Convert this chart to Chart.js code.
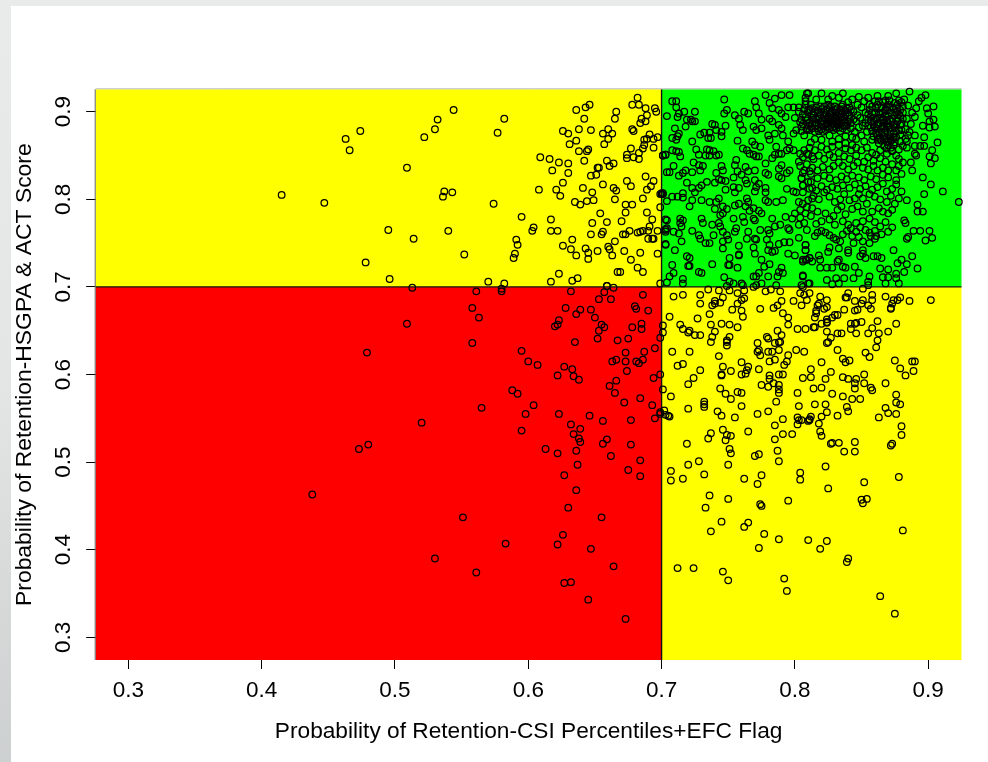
<!DOCTYPE html>
<html><head><meta charset="utf-8">
<style>
html,body{margin:0;padding:0;width:988px;height:762px;overflow:hidden;background:linear-gradient(180deg,#e9eaea 0%,#e4e5e5 50%,#cdd0d0 100%)}
#wrap{position:absolute;left:11px;top:6px;width:977px;height:756px;background:#fff}
canvas{display:block}
</style>
<script src="https://cdn.jsdelivr.net/npm/chart.js@4"></script>
</head><body><div id="wrap"><canvas id="c" width="977" height="756"></canvas></div>
<script>
const xTitle="Probability of Retention-CSI Percentiles+EFC Flag";
const yTitle="Probability of Retention-HSGPA & ACT Score";
const tickValues=[0.3,0.4,0.5,0.6,0.7,0.8,0.9];
const cut=0.7;
const xLimits=[0.2755,0.925];
const yLimits=[0.2741,0.9256];
const redPts=[[.513,.699],[.561,.695],[.580,.698],[.580,.695],[.632,.695],[.659,.701],[.664,.699],[.657,.694],[.653,.686],[.662,.686],[.686,.691],[.558,.676],[.563,.665],[.628,.676],[.639,.674],[.636,.669],[.647,.674],[.650,.665],[.623,.662],[.622,.657],[.620,.655],[.680,.678],[.681,.675],[.690,.673],[.685,.658],[.685,.652],[.678,.654],[.655,.657],[.657,.654],[.653,.650],[.652,.641],[.667,.639],[.675,.641],[.509,.658],[.635,.637],[.558,.636],[.479,.625],[.595,.627],[.673,.625],[.687,.626],[.695,.630],[.699,.642],[.701,.648],[.701,.656],[.600,.615],[.607,.611],[.627,.609],[.633,.606],[.663,.615],[.666,.617],[.673,.615],[.681,.615],[.683,.613],[.686,.617],[.674,.604],[.622,.599],[.634,.598],[.638,.594],[.666,.593],[.694,.596],[.699,.600],[.661,.587],[.665,.579],[.588,.582],[.592,.578],[.701,.583],[.684,.573],[.672,.568],[.693,.565],[.604,.565],[.565,.562],[.598,.555],[.623,.555],[.646,.553],[.656,.547],[.677,.548],[.695,.550],[.699,.557],[.699,.555],[.702,.559],[.703,.554],[.705,.553],[.520,.545],[.632,.543],[.639,.538],[.595,.536],[.634,.532],[.638,.527],[.639,.523],[.659,.526],[.656,.521],[.677,.520],[.480,.520],[.473,.515],[.613,.515],[.622,.510],[.636,.513],[.662,.507],[.684,.502],[.637,.497],[.627,.485],[.675,.491],[.684,.484],[.636,.468],[.438,.463],[.630,.448],[.551,.437],[.655,.437],[.626,.417],[.583,.407],[.622,.406],[.647,.401],[.530,.390],[.664,.381],[.561,.374],[.627,.362],[.632,.363],[.645,.343],[.673,.321]];
const yellowUpperPts=[[.474,.878],[.463,.869],[.466,.856],[.415,.805],[.447,.796],[.495,.765],[.478,.728],[.496,.709],[.544,.902],[.532,.891],[.530,.880],[.522,.871],[.582,.892],[.577,.876],[.509,.836],[.537,.809],[.543,.808],[.536,.803],[.574,.795],[.608,.811],[.595,.780],[.514,.755],[.540,.764],[.552,.737],[.591,.754],[.592,.748],[.590,.738],[.589,.733],[.570,.706],[.582,.704],[.604,.768],[.603,.764],[.617,.777],[.617,.764],[.622,.764],[.609,.848],[.616,.846],[.623,.842],[.630,.841],[.618,.833],[.630,.830],[.626,.819],[.621,.811],[.624,.804],[.633,.754],[.626,.747],[.632,.743],[.636,.736],[.623,.715],[.617,.706],[.633,.707],[.637,.710],[.636,.902],[.643,.905],[.646,.908],[.642,.892],[.626,.878],[.630,.875],[.638,.880],[.647,.879],[.636,.867],[.631,.863],[.638,.855],[.644,.855],[.645,.857],[.642,.844],[.652,.836],[.653,.836],[.647,.827],[.651,.828],[.659,.844],[.661,.838],[.664,.841],[.656,.817],[.641,.813],[.648,.808],[.635,.797],[.639,.794],[.644,.798],[.649,.799],[.664,.813],[.666,.810],[.665,.800],[.654,.784],[.659,.774],[.648,.773],[.647,.760],[.655,.760],[.656,.763],[.665,.752],[.660,.746],[.661,.743],[.663,.736],[.643,.744],[.645,.739],[.645,.732],[.652,.741],[.672,.741],[.677,.731],[.684,.739],[.697,.738],[.682,.722],[.686,.717],[.667,.717],[.669,.717],[.659,.701],[.699,.704],[.666,.900],[.665,.892],[.678,.908],[.682,.916],[.683,.908],[.688,.904],[.689,.896],[.685,.892],[.684,.887],[.688,.889],[.695,.904],[.696,.900],[.678,.880],[.679,.878],[.660,.880],[.656,.875],[.663,.875],[.660,.869],[.657,.863],[.677,.858],[.674,.851],[.674,.847],[.679,.848],[.683,.853],[.683,.846],[.686,.858],[.687,.862],[.687,.868],[.689,.869],[.691,.874],[.694,.869],[.697,.871],[.694,.859],[.701,.850],[.703,.851],[.688,.826],[.674,.821],[.677,.815],[.694,.821],[.692,.815],[.689,.811],[.699,.806],[.700,.806],[.701,.807],[.686,.801],[.673,.794],[.678,.794],[.673,.785],[.689,.785],[.670,.775],[.693,.777],[.699,.791],[.691,.769],[.676,.764],[.673,.760],[.671,.760],[.682,.762],[.684,.763],[.686,.764],[.690,.764],[.697,.764],[.690,.755],[.693,.755],[.694,.755],[.703,.748],[.703,.777],[.703,.766],[.703,.763]];
const yellowLowerPts=[[.709,.689],[.716,.691],[.729,.691],[.729,.681],[.735,.697],[.743,.696],[.751,.696],[.746,.688],[.744,.682],[.740,.684],[.740,.681],[.738,.679],[.757,.693],[.762,.696],[.762,.687],[.760,.685],[.757,.681],[.753,.674],[.760,.673],[.761,.666],[.774,.675],[.778,.695],[.782,.697],[.789,.695],[.790,.684],[.787,.679],[.784,.676],[.791,.670],[.795,.665],[.795,.657],[.799,.684],[.804,.693],[.807,.691],[.811,.693],[.809,.685],[.805,.679],[.819,.689],[.824,.685],[.818,.681],[.817,.679],[.824,.677],[.822,.675],[.816,.673],[.816,.670],[.815,.665],[.837,.674],[.832,.668],[.830,.668],[.828,.665],[.824,.663],[.824,.660],[.824,.659],[.820,.658],[.815,.654],[.814,.654],[.808,.652],[.802,.652],[.824,.649],[.840,.693],[.838,.688],[.839,.688],[.845,.684],[.851,.685],[.850,.681],[.858,.691],[.858,.685],[.855,.679],[.857,.675],[.847,.674],[.845,.673],[.868,.689],[.879,.688],[.877,.685],[.874,.685],[.873,.681],[.872,.676],[.872,.675],[.886,.684],[.902,.685],[.876,.658],[.862,.661],[.850,.660],[.846,.659],[.845,.658],[.842,.658],[.858,.653],[.842,.652],[.846,.647],[.855,.647],[.832,.647],[.835,.647],[.863,.647],[.870,.649],[.862,.639],[.861,.631],[.827,.642],[.825,.637],[.824,.636],[.832,.628],[.853,.625],[.856,.620],[.836,.618],[.838,.614],[.841,.616],[.875,.616],[.879,.607],[.888,.615],[.890,.615],[.889,.604],[.883,.599],[.868,.590],[.876,.577],[.876,.568],[.879,.566],[.868,.562],[.870,.556],[.876,.555],[.863,.551],[.880,.541],[.880,.531],[.873,.521],[.872,.519],[.706,.666],[.714,.657],[.716,.652],[.720,.648],[.721,.650],[.725,.645],[.729,.645],[.727,.664],[.736,.669],[.737,.657],[.740,.649],[.738,.643],[.737,.637],[.745,.658],[.751,.657],[.757,.654],[.751,.643],[.749,.639],[.749,.637],[.749,.633],[.708,.626],[.721,.626],[.743,.621],[.712,.610],[.716,.612],[.729,.605],[.724,.596],[.720,.589],[.746,.609],[.752,.604],[.745,.600],[.745,.599],[.760,.614],[.765,.609],[.764,.605],[.763,.601],[.760,.600],[.773,.606],[.744,.584],[.748,.578],[.752,.572],[.757,.580],[.760,.579],[.760,.564],[.732,.569],[.732,.566],[.732,.563],[.720,.561],[.707,.575],[.706,.552],[.742,.558],[.745,.553],[.755,.551],[.772,.555],[.780,.558],[.786,.569],[.788,.579],[.788,.583],[.788,.588],[.780,.586],[.775,.588],[.784,.590],[.781,.595],[.781,.599],[.788,.600],[.791,.600],[.792,.611],[.794,.615],[.795,.622],[.785,.617],[.781,.615],[.774,.622],[.772,.626],[.773,.628],[.780,.626],[.783,.626],[.788,.628],[.789,.637],[.788,.637],[.790,.645],[.787,.650],[.785,.636],[.779,.643],[.780,.641],[.772,.636],[.801,.628],[.807,.626],[.820,.614],[.812,.606],[.812,.597],[.806,.596],[.827,.603],[.823,.595],[.836,.597],[.840,.595],[.846,.595],[.845,.590],[.845,.584],[.852,.600],[.852,.590],[.857,.585],[.858,.582],[.820,.585],[.814,.584],[.802,.579],[.828,.578],[.836,.575],[.843,.572],[.849,.572],[.815,.566],[.823,.566],[.803,.564],[.824,.557],[.820,.552],[.839,.563],[.840,.558],[.832,.553],[.791,.549],[.785,.542],[.802,.551],[.803,.548],[.802,.543],[.805,.548],[.810,.547],[.811,.549],[.812,.552],[.811,.548],[.818,.544],[.819,.535],[.820,.530],[.791,.532],[.798,.532],[.785,.526],[.765,.535],[.746,.537],[.749,.531],[.752,.530],[.748,.525],[.737,.533],[.735,.527],[.719,.521],[.751,.515],[.752,.510],[.770,.507],[.773,.509],[.787,.513],[.788,.501],[.827,.521],[.828,.522],[.833,.522],[.845,.523],[.837,.512],[.845,.512],[.728,.501],[.720,.497],[.750,.497],[.707,.490],[.707,.479],[.716,.481],[.732,.486],[.762,.481],[.775,.485],[.772,.475],[.804,.488],[.804,.480],[.823,.495],[.825,.470],[.852,.477],[.878,.483],[.736,.462],[.750,.458],[.733,.448],[.774,.452],[.775,.450],[.795,.456],[.850,.457],[.854,.458],[.851,.453],[.745,.432],[.765,.431],[.762,.426],[.737,.421],[.777,.418],[.788,.412],[.773,.402],[.810,.411],[.824,.410],[.819,.401],[.881,.422],[.840,.390],[.839,.386],[.712,.379],[.724,.379],[.746,.375],[.750,.365],[.792,.367],[.794,.353],[.864,.347],[.875,.327]];
const greenLeftPts=[[.708,.912],[.711,.912],[.711,.905],[.704,.895],[.713,.898],[.712,.894],[.717,.900],[.725,.900],[.719,.891],[.722,.891],[.725,.889],[.718,.883],[.723,.889],[.747,.914],[.749,.902],[.747,.898],[.770,.912],[.771,.905],[.778,.919],[.785,.915],[.790,.919],[.796,.919],[.810,.921],[.808,.912],[.795,.905],[.799,.905],[.803,.905],[.781,.910],[.783,.904],[.788,.902],[.790,.898],[.755,.896],[.758,.892],[.762,.900],[.765,.898],[.773,.898],[.775,.891],[.781,.892],[.783,.889],[.793,.894],[.800,.893],[.805,.891],[.810,.902],[.813,.896],[.811,.887],[.813,.881],[.809,.879],[.805,.883],[.801,.879],[.759,.885],[.761,.879],[.769,.883],[.771,.879],[.775,.881],[.788,.885],[.790,.881],[.791,.873],[.785,.875],[.710,.881],[.713,.875],[.712,.872],[.708,.870],[.711,.868],[.729,.874],[.732,.876],[.736,.876],[.735,.870],[.737,.870],[.738,.886],[.740,.885],[.741,.879],[.748,.884],[.745,.877],[.745,.872],[.723,.866],[.726,.857],[.728,.851],[.734,.857],[.736,.856],[.739,.855],[.733,.850],[.736,.850],[.741,.850],[.743,.851],[.708,.856],[.711,.855],[.713,.854],[.714,.849],[.703,.851],[.701,.850],[.709,.838],[.704,.831],[.706,.831],[.713,.827],[.718,.833],[.716,.830],[.723,.831],[.724,.842],[.728,.839],[.731,.838],[.729,.833],[.745,.838],[.746,.833],[.741,.830],[.743,.823],[.745,.822],[.748,.821],[.740,.819],[.734,.820],[.719,.819],[.730,.816],[.728,.813],[.723,.813],[.725,.808],[.748,.811],[.754,.814],[.755,.808],[.756,.845],[.755,.839],[.757,.832],[.760,.828],[.754,.825],[.763,.837],[.765,.832],[.770,.833],[.761,.858],[.764,.856],[.757,.867],[.766,.852],[.769,.851],[.771,.849],[.773,.849],[.778,.841],[.783,.847],[.785,.851],[.788,.852],[.790,.852],[.794,.856],[.796,.858],[.799,.856],[.790,.839],[.788,.835],[.794,.830],[.796,.833],[.790,.824],[.788,.826],[.780,.828],[.778,.830],[.770,.822],[.773,.818],[.771,.814],[.770,.809],[.763,.822],[.764,.818],[.758,.813],[.778,.813],[.778,.808],[.794,.812],[.799,.809],[.801,.808],[.806,.830],[.811,.832],[.805,.824],[.810,.820],[.806,.816],[.813,.813],[.770,.862],[.774,.860],[.768,.866],[.780,.873],[.781,.868],[.786,.860],[.795,.866],[.799,.875],[.804,.852],[.809,.852],[.813,.849],[.803,.843],[.700,.807],[.701,.806],[.704,.798],[.708,.803],[.712,.803],[.716,.807],[.716,.802],[.723,.799],[.721,.792],[.730,.799],[.736,.797],[.743,.801],[.741,.797],[.740,.789],[.746,.792],[.749,.789],[.746,.784],[.744,.782],[.755,.793],[.758,.795],[.764,.801],[.765,.797],[.763,.792],[.766,.787],[.769,.790],[.773,.787],[.775,.784],[.778,.799],[.780,.797],[.791,.799],[.786,.797],[.783,.778],[.785,.769],[.789,.771],[.793,.780],[.798,.778],[.800,.784],[.804,.788],[.806,.795],[.810,.799],[.813,.801],[.813,.790],[.803,.797],[.808,.784],[.754,.778],[.761,.780],[.769,.778],[.770,.776],[.704,.776],[.704,.767],[.703,.765],[.714,.778],[.716,.776],[.714,.773],[.715,.769],[.709,.763],[.713,.761],[.723,.764],[.730,.778],[.731,.773],[.738,.771],[.743,.773],[.744,.769],[.728,.759],[.729,.755],[.733,.750],[.736,.750],[.739,.759],[.746,.763],[.749,.759],[.746,.752],[.750,.754],[.756,.767],[.755,.763],[.762,.774],[.765,.763],[.764,.755],[.770,.755],[.771,.754],[.774,.765],[.780,.765],[.781,.761],[.779,.754],[.795,.767],[.796,.765],[.803,.771],[.803,.756],[.703,.749],[.710,.742],[.715,.752],[.746,.744],[.758,.747],[.758,.736],[.758,.737],[.751,.733],[.750,.725],[.751,.725],[.757,.722],[.738,.726],[.719,.735],[.721,.733],[.720,.724],[.721,.724],[.708,.725],[.709,.716],[.706,.712],[.728,.717],[.730,.716],[.716,.709],[.704,.705],[.716,.704],[.747,.711],[.751,.706],[.754,.704],[.760,.704],[.761,.702],[.749,.701],[.769,.712],[.771,.712],[.773,.716],[.780,.712],[.775,.704],[.769,.700],[.771,.702],[.786,.702],[.787,.712],[.788,.717],[.790,.722],[.791,.716],[.777,.723],[.781,.726],[.775,.731],[.783,.740],[.780,.742],[.781,.748],[.788,.749],[.792,.751],[.796,.751],[.795,.738],[.800,.736],[.785,.741],[.769,.745],[.770,.738],[.806,.712],[.808,.742],[.808,.748],[.806,.731],[.809,.731],[.811,.733],[.813,.729],[.811,.704],[.805,.702]];
const greenRightPts=[[.923,.797],[.911,.809],[.902,.817],[.897,.806],[.896,.825],[.888,.833],[.887,.842],[.902,.841],[.905,.847],[.901,.849],[.903,.856],[.907,.865],[.897,.871],[.890,.861],[.894,.861],[.897,.861],[.890,.852],[.891,.850],[.904,.891],[.901,.889],[.905,.883],[.901,.882],[.896,.884],[.904,.906],[.899,.904],[.900,.898],[.898,.919],[.895,.916],[.893,.912],[.886,.923],[.876,.921],[.836,.921],[.820,.921],[.809,.921],[.890,.873],[.885,.873],[.884,.866],[.884,.859],[.892,.794],[.892,.786],[.896,.786],[.884,.799],[.880,.809],[.878,.801],[.882,.776],[.883,.773],[.889,.764],[.894,.764],[.901,.764],[.903,.756],[.898,.753],[.884,.755],[.885,.757],[.874,.742],[.888,.735],[.880,.731],[.884,.726],[.877,.727],[.892,.721],[.882,.717],[.876,.715],[.876,.710],[.870,.720],[.864,.721],[.865,.733],[.862,.735],[.859,.735],[.866,.711],[.870,.711],[.878,.704],[.868,.704],[.856,.712],[.855,.706],[.855,.702],[.851,.698],[.837,.710],[.831,.710],[.828,.703],[.833,.704],[.824,.708],[.845,.723],[.848,.716],[.844,.710],[.819,.722],[.824,.722],[.828,.722],[.836,.723],[.838,.722],[.832,.729],[.833,.731],[.818,.736],[.819,.731],[.811,.733],[.808,.731],[.806,.729],[.808,.748],[.808,.742],[.806,.713],[.810,.704],[.806,.700],[.826,.745],[.825,.740],[.833,.744],[.840,.742],[.840,.739],[.851,.742],[.851,.738],[.849,.735],[.853,.733],[.856,.750],[.860,.755],[.857,.758],[.851,.752],[.848,.757],[.843,.758],[.844,.750],[.815,.758],[.817,.762],[.820,.764],[.823,.762],[.826,.759],[.829,.756],[.831,.754],[.834,.752],[.836,.760],[.839,.764],[.842,.767],[.846,.763],[.849,.768],[.853,.765],[.856,.762],[.860,.764],[.861,.758],[.865,.760],[.870,.763],[.873,.768],[.868,.774],[.864,.769],[.860,.774],[.856,.778],[.851,.775],[.846,.773],[.840,.771],[.836,.775],[.830,.771],[.826,.777],[.820,.775],[.816,.772],[.809,.765],[.804,.779],[.807,.773],[.812,.781],[.817,.786],[.823,.784],[.829,.781],[.832,.788],[.835,.792],[.838,.783],[.843,.789],[.847,.792],[.851,.786],[.854,.795],[.858,.786],[.863,.790],[.866,.786],[.870,.784],[.873,.788],[.875,.795],[.869,.797],[.864,.800],[.860,.803],[.856,.806],[.851,.801],[.848,.806],[.845,.801],[.841,.799],[.837,.806],[.834,.800],[.830,.797],[.826,.803],[.822,.808],[.818,.800],[.814,.804],[.809,.791],[.806,.808],[.811,.812],[.806,.816],[.812,.820],[.805,.824],[.816,.810],[.820,.815],[.824,.811],[.828,.814],[.832,.812],[.836,.816],[.841,.813],[.845,.817],[.849,.812],[.853,.815],[.858,.811],[.862,.814],[.866,.818],[.869,.809],[.873,.812],[.876,.817],[.872,.804],[.876,.822],[.870,.825],[.866,.828],[.861,.823],[.857,.826],[.852,.822],[.848,.825],[.843,.827],[.839,.823],[.835,.826],[.831,.822],[.826,.824],[.822,.827],[.817,.824],[.812,.829],[.807,.833],[.804,.838],[.809,.840],[.813,.836],[.817,.833],[.821,.837],[.826,.834],[.829,.838],[.833,.842],[.836,.838],[.840,.834],[.844,.838],[.847,.842],[.851,.836],[.855,.834],[.859,.838],[.862,.833],[.866,.836],[.870,.833],[.873,.840],[.868,.843],[.864,.847],[.859,.844],[.855,.848],[.852,.843],[.846,.850],[.841,.846],[.837,.849],[.833,.853],[.829,.848],[.826,.851],[.822,.846],[.818,.850],[.814,.846],[.810,.851],[.806,.848],[.807,.856],[.811,.859],[.815,.856],[.820,.860],[.824,.857],[.828,.860],[.833,.862],[.838,.858],[.842,.856],[.846,.859],[.850,.856],[.854,.859],[.858,.853],[.861,.851],[.864,.856],[.869,.852],[.873,.855],[.876,.850],[.878,.846],[.881,.842],[.878,.838],[.876,.833],[.880,.829]];
const greenClusterA=[[.811,.903],[.826,.889],[.817,.881],[.833,.898],[.808,.894],[.839,.884],[.822,.906],[.829,.879],[.814,.891],[.836,.903],[.819,.897],[.827,.884],[.841,.892],[.806,.886],[.831,.893],[.823,.879],[.816,.905],[.835,.887],[.812,.883],[.828,.901],[.838,.896],[.82,.886],[.833,.882],[.81,.899],[.825,.894],[.842,.887],[.818,.892],[.83,.906],[.815,.877],[.837,.89],[.822,.899],[.807,.903],[.832,.886],[.826,.897],[.84,.899],[.813,.887],[.821,.883],[.835,.894],[.828,.89],[.817,.901],[.834,.878],[.824,.903],[.809,.89],[.839,.904],[.83,.883],[.819,.888],[.827,.893],[.836,.881],[.814,.896],[.823,.891],[.831,.899],[.842,.881],[.812,.908],[.826,.881],[.833,.89],[.82,.903],[.838,.888],[.816,.887],[.829,.896],[.824,.886],[.835,.906],[.81,.884],[.841,.896],[.818,.878],[.832,.904],[.827,.899],[.837,.884],[.822,.894],[.806,.897],[.83,.889],[.815,.9],[.834,.893],[.825,.908],[.84,.889],[.813,.893],[.828,.887],[.821,.89],[.836,.899],[.819,.906],[.831,.881],[.823,.896],[.811,.879],[.838,.901],[.826,.904],[.833,.885],[.817,.895],[.829,.892],[.842,.902],[.824,.883],[.835,.897],[.808,.908],[.82,.88],[.83,.902],[.837,.893],[.815,.884],[.827,.906],[.832,.895],[.839,.879],[.822,.887],[.813,.904],[.828,.882],[.836,.908],[.818,.899],[.825,.891],[.831,.887],[.841,.905],[.816,.892],[.834,.902],[.821,.877],[.809,.881]];
const greenClusterB=[[.862,.908],[.874,.885],[.868,.896],[.857,.889],[.879,.902],[.865,.875],[.871,.913],[.876,.871],[.86,.899],[.869,.883],[.881,.892],[.863,.864],[.873,.905],[.855,.897],[.867,.888],[.878,.879],[.861,.881],[.875,.896],[.87,.869],[.858,.906],[.864,.893],[.88,.886],[.872,.877],[.866,.911],[.877,.908],[.859,.885],[.869,.901],[.874,.862],[.862,.873],[.868,.879],[.856,.902],[.879,.874],[.871,.891],[.865,.905],[.876,.899],[.861,.891],[.873,.868],[.867,.871],[.881,.906],[.858,.878],[.87,.908],[.863,.899],[.875,.882],[.869,.866],[.86,.912],[.877,.889],[.866,.884],[.872,.899],[.855,.884],[.864,.869],[.879,.895],[.874,.875],[.862,.886],[.868,.913],[.876,.904],[.857,.894],[.871,.882],[.865,.89],[.88,.879],[.873,.892],[.861,.904],[.867,.876],[.878,.913],[.859,.872],[.87,.887],[.875,.865],[.864,.897],[.869,.905],[.872,.859],[.856,.908],[.877,.893],[.863,.877],[.868,.869],[.874,.903],[.86,.882],[.881,.899],[.866,.899],[.871,.872],[.876,.885],[.862,.893],[.879,.885],[.867,.861],[.873,.881],[.858,.899],[.87,.895],[.865,.867],[.875,.91],[.861,.876],[.869,.858],[.878,.897],[.864,.887],[.872,.889],[.857,.882],[.868,.903],[.874,.871],[.866,.891],[.88,.911],[.863,.912],[.871,.905],[.876,.877],[.859,.89],[.873,.856],[.867,.881],[.87,.862],[.862,.868],[.877,.901],[.865,.881],[.855,.891],[.872,.867],[.869,.891]];
const greenUpperPts=[[.845,.877],[.849,.893],[.847,.908],[.851,.884],[.844,.9],[.85,.873],[.846,.889],[.853,.899],[.843,.871],[.852,.912],[.848,.882],[.844,.891],[.854,.877],[.846,.869],[.85,.905],[.843,.914],[.853,.887],[.847,.896],[.838,.872],[.826,.873],[.815,.869],[.807,.873],[.833,.869],[.82,.868],[.843,.862],[.852,.866],[.858,.868],[.812,.865],[.828,.866],[.838,.864],[.825,.914],[.833,.916],[.816,.914],[.84,.911],[.808,.916],[.848,.917],[.855,.916],[.862,.918],[.828,.918],[.87,.918],[.882,.914],[.885,.907],[.888,.899],[.884,.892],[.887,.886],[.891,.904],[.89,.894],[.883,.88],[.886,.877],[.883,.869],[.879,.866],[.881,.861],[.878,.857],[.805,.878],[.804,.888],[.803,.9]];
const tickLabel=v=>v.toFixed(1);
const allPts=[...redPts,...yellowUpperPts,...yellowLowerPts,...greenLeftPts,...greenRightPts,...greenClusterA,...greenClusterB,...greenUpperPts].map(p=>({x:p[0],y:p[1]}));
const quadrants=[
 {x:[xLimits[0],cut],y:[yLimits[0],cut],color:'#ff0000'},
 {x:[xLimits[0],cut],y:[cut,yLimits[1]],color:'#ffff00'},
 {x:[cut,xLimits[1]],y:[yLimits[0],cut],color:'#ffff00'},
 {x:[cut,xLimits[1]],y:[cut,yLimits[1]],color:'#00ff00'}];
const backdrop={id:'backdrop',beforeDatasetsDraw(ch){
 const c=ch.ctx,sx=ch.scales.x,sy=ch.scales.y;
 c.save();
 quadrants.forEach(q=>{const l=sx.getPixelForValue(q.x[0]),r=sx.getPixelForValue(q.x[1]),t=sy.getPixelForValue(q.y[1]),b=sy.getPixelForValue(q.y[0]);c.fillStyle=q.color;c.fillRect(l,t,r-l,b-t);});
 c.strokeStyle='#111';c.lineWidth=1.4;c.beginPath();
 const px=sx.getPixelForValue(cut),py=sy.getPixelForValue(cut);
 c.moveTo(px,ch.chartArea.top);c.lineTo(px,ch.chartArea.bottom);
 c.moveTo(ch.chartArea.left,py);c.lineTo(ch.chartArea.right,py);c.stroke();
 c.strokeStyle='#bbb';c.lineWidth=1;c.beginPath();c.moveTo(ch.chartArea.left,ch.chartArea.top-.5);c.lineTo(ch.chartArea.right,ch.chartArea.top-.5);c.stroke();
 c.strokeStyle='#666';c.beginPath();c.moveTo(ch.chartArea.left-.5,ch.chartArea.top);c.lineTo(ch.chartArea.left-.5,ch.chartArea.bottom);c.stroke();
 c.restore();
}};
const yLabels={id:'yLabels',afterDraw(ch){
 const c=ch.ctx,sy=ch.scales.y;
 c.save();c.fillStyle='#000';c.font='22.5px "Liberation Sans"';c.textAlign='center';c.textBaseline='middle';
 tickValues.forEach(v=>{c.save();c.translate(53,sy.getPixelForValue(v));c.rotate(-Math.PI/2);c.fillText(tickLabel(v),0,0);c.restore();});
 c.restore();
}};
Chart.defaults.font.family='"Liberation Sans"';
new Chart(document.getElementById('c'),{
 type:'scatter',
 data:{datasets:[{data:allPts,pointRadius:3.3,pointBorderWidth:1.25,borderColor:'#000',backgroundColor:'rgba(0,0,0,0)',pointBorderColor:'#000',pointBackgroundColor:'rgba(0,0,0,0)',clip:false}]},
 plugins:[backdrop,yLabels],
 options:{responsive:false,animation:false,devicePixelRatio:1,
  layout:{padding:{left:0,top:83.3,right:26.5,bottom:0}},
  plugins:{legend:{display:false},tooltip:{enabled:false}},
  scales:{
   x:{type:'linear',min:xLimits[0],max:xLimits[1],
    afterBuildTicks(s){s.ticks=tickValues.map(v=>({value:v}));},
    afterFit(s){s.height=102;},
    grid:{drawOnChartArea:false,drawTicks:true,tickLength:9,color:'#000',lineWidth:1},border:{display:false},
    ticks:{callback:tickLabel,color:'#000',font:{size:22.5},padding:8,maxRotation:0,minRotation:0,autoSkip:false},
    title:{display:true,text:xTitle,color:'#000',font:{size:22.7},padding:{top:12,bottom:17}}},
   y:{type:'linear',min:yLimits[0],max:yLimits[1],
    afterBuildTicks(s){s.ticks=tickValues.map(v=>({value:v}));},
    afterFit(s){s.width=84.7;},
    grid:{drawOnChartArea:false,drawTicks:true,tickLength:9.5,color:'#000',lineWidth:1},border:{display:false},
    ticks:{display:false,callback:tickLabel},
    title:{display:true,text:yTitle,color:'#000',font:{size:22.9},padding:{top:0,bottom:0}}}
  }}
});
</script></body></html>
